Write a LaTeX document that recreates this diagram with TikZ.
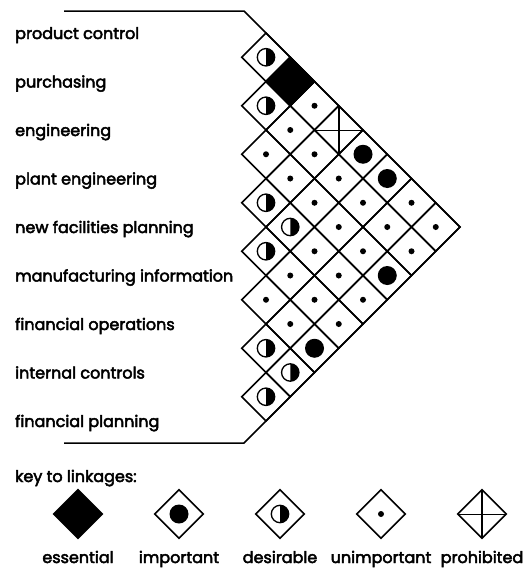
\documentclass[tikz,border=0pt]{standalone}
\usepackage{fontspec}
\setmainfont{Poppins}
\newfontfamily\labfont{Poppins}[FakeBold=3]
\usetikzlibrary{shapes.geometric}
\begin{document}
\begin{tikzpicture}[x=1pt,y=-1pt,
  cell/.style={draw, line width=1.5pt, diamond, aspect=1, inner sep=0pt, outer sep=0pt,
    minimum width=48.5pt, minimum height=48.5pt},
  solidcell/.style={cell, fill=black},
  lab/.style={anchor=base west, inner sep=0pt, font=\labfont\fontsize{16}{19}\selectfont},
  keylab/.style={anchor=base, inner sep=0pt, font=\labfont\fontsize{16}{19}\selectfont},
  outline/.style={line width=1.5pt, line join=miter},
  desir/.pic={\fill (0,-8.7) arc[start angle=-90,end angle=90,radius=8.7] -- cycle;
              \draw[line width=1.3pt] (0,0) circle[radius=8.7];},
  impt/.style={fill=black},
  crossv/.style={line width=1.5pt},
  crossh/.style={line width=0.8pt}
]
\useasboundingbox (0,0) rectangle (528,570);

% department labels
\foreach \t [count=\k from 0] in {product control, purchasing, engineering, plant engineering,
   new facilities planning, manufacturing information, financial operations,
   internal controls, financial planning}
  \node[lab] (l\k) at (15,{39+48.5*\k}) {\t};

% matrix cells
\foreach \i in {0,...,7}{
  \pgfmathtruncatemacro{\js}{\i+1}
  \foreach \j in {\js,...,8}{
    \node[cell] (d\i\j) at ({266+(\j-\i-1)*24.25},{33+(\i+\j)*24.25}) {};
  }
}
% essential
\node[solidcell] at (d02) {};

% outline
\coordinate (tl) at (64,11);
\coordinate (tc) at (244,11);
\coordinate (bc) at (244,443);
\coordinate (bl) at (64,443);
\draw[outline] (tl) -- (tc) -- (d08.east) -- (d78.south) -- (bc) -- (bl);

% important
\foreach \p in {05,06,28,58}
  \fill[impt] (d\p) circle[radius=9.5];
% desirable
\foreach \p in {01,12,34,35,45,67,68,78}
  \pic at (d\p) {desir};
% unimportant
\foreach \p in {03,13,23,14,24,15,07,08,16,17,18,25,26,27,36,37,38,46,47,48,56,57}
  \fill (d\p) circle[radius=3];
% prohibited
\draw[crossv] (d04.north) -- (d04.south);
\draw[crossh] (d04.west) -- (d04.east);

% key
\node[lab] (keyt) at (15,482) {key to linkages:};
\node[solidcell] (k1) at (78,514) {};
\node[cell] (k2) at (179,514) {};
\node[cell] (k3) at (280,514) {};
\node[cell] (k4) at (381,514) {};
\node[cell] (k5) at (482,514) {};
\fill[impt] (k2) circle[radius=9.5];
\pic at (k3) {desir};
\fill (k4) circle[radius=3];
\draw[crossv] (k5.north) -- (k5.south);
\draw[crossh] (k5.west) -- (k5.east);

\node[keylab] (t1) at (k1 |- 0,563) {essential};
\node[keylab] (t2) at (k2 |- 0,563) {important};
\node[keylab] (t3) at (k3 |- 0,563) {desirable};
\node[keylab] (t4) at (k4 |- 0,563) {unimportant};
\node[keylab] (t5) at (k5 |- 0,563) {prohibited};
\end{tikzpicture}
\end{document}
